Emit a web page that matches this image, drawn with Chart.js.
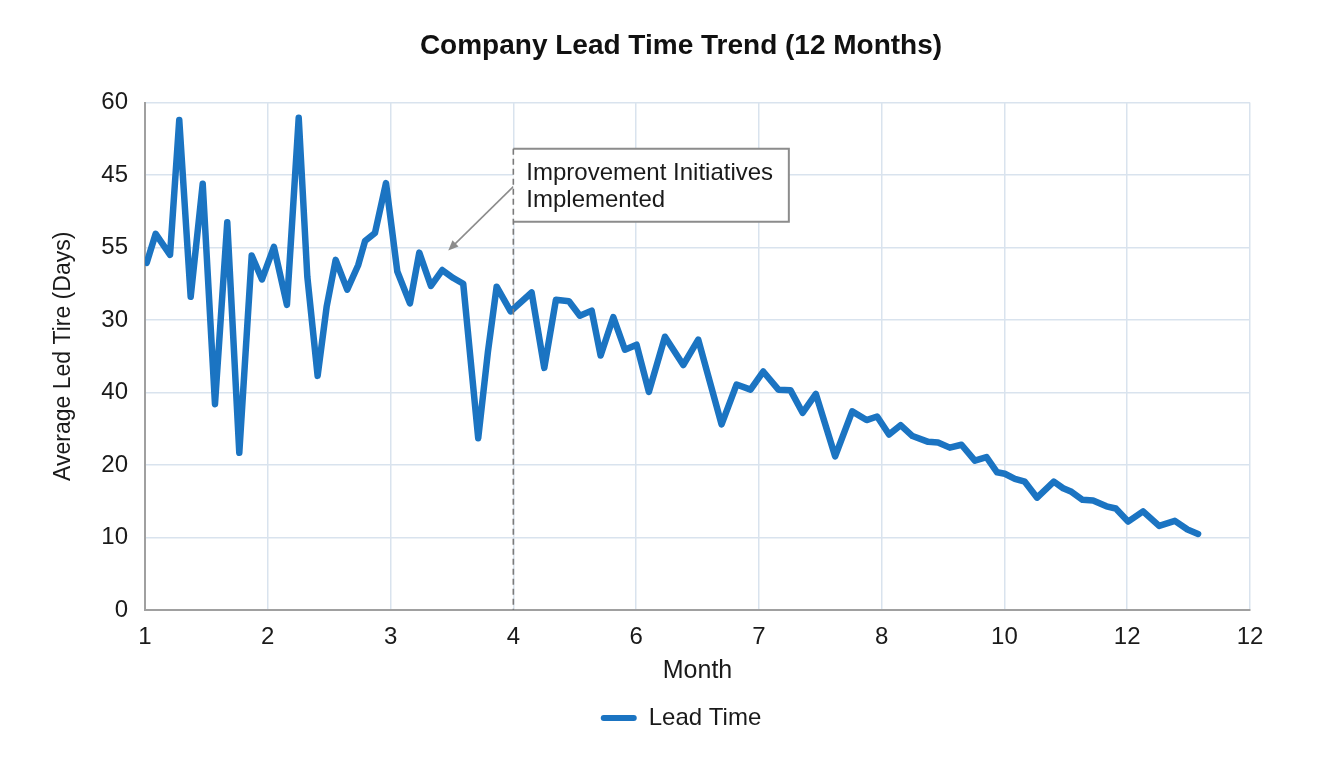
<!DOCTYPE html>
<html>
<head>
<meta charset="utf-8">
<script src="https://cdn.jsdelivr.net/npm/chart.js@4.4.0/dist/chart.umd.min.js"></script>
<style>
  html, body { margin: 0; padding: 0; background: #ffffff; }
  #wrap { width: 1344px; height: 768px; }
</style>
</head>
<body>
<div id="wrap"><canvas id="c" width="1344" height="768"></canvas></div>
<script>
// ---- Data ----
const chartTitle = 'Company Lead Time Trend (12 Months)';
const seriesName = 'Lead Time';
const xAxisTitle = 'Month';
const yAxisTitle = 'Average Led Tire (Days)';
// tick labels exactly as printed on the reference axes
const xTickLabels = ['1', '2', '3', '4', '6', '7', '8', '10', '12', '12'];
const yTickLabels = ['0', '10', '20', '40', '30', '55', '45', '60'];
// position of each observation along the month axis (axis units, tick index)
const monthPos = [
  0.014, 0.087, 0.204, 0.279, 0.372, 0.470, 0.570, 0.670, 0.768, 0.869,
  0.953, 1.050, 1.156, 1.252, 1.322, 1.406, 1.480, 1.553, 1.647, 1.737,
  1.792, 1.873, 1.963, 2.055, 2.158, 2.234, 2.329, 2.421, 2.511, 2.592,
  2.714, 2.793, 2.864, 2.978, 3.149, 3.252, 3.347, 3.453, 3.542, 3.638,
  3.711, 3.814, 3.909, 4.004, 4.104, 4.235, 4.384, 4.506, 4.696, 4.818,
  4.932, 5.035, 5.159, 5.258, 5.356, 5.464, 5.621, 5.760, 5.877, 5.963,
  6.060, 6.154, 6.251, 6.379, 6.459, 6.555, 6.650, 6.759, 6.854, 6.940,
  7.003, 7.085, 7.166, 7.266, 7.402, 7.478, 7.546, 7.636, 7.722, 7.831,
  7.907, 8.007, 8.129, 8.260, 8.388, 8.491, 8.577
];
// lead time values on the plotted (linear) axis scale
const leadTime = [
  47.9, 51.9, 49.0, 67.6, 43.2, 58.8, 28.4, 53.5, 21.7, 48.9,
  45.6, 50.1, 42.1, 67.9, 46.0, 32.3, 41.9, 48.3, 44.2, 47.6,
  50.9, 52.0, 58.9, 46.7, 42.3, 49.3, 44.7, 46.9, 45.8, 45.0,
  23.7, 35.6, 44.6, 41.2, 43.8, 33.4, 42.8, 42.6, 40.6, 41.3,
  35.1, 40.4, 35.9, 36.6, 30.1, 37.7, 33.8, 37.3, 25.6, 31.1,
  30.4, 32.9, 30.4, 30.3, 27.2, 29.8, 21.2, 27.4, 26.2, 26.7,
  24.2, 25.5, 24.0, 23.2, 23.1, 22.4, 22.8, 20.6, 21.1, 19.0,
  18.8, 18.1, 17.7, 15.5, 17.7, 16.8, 16.3, 15.2, 15.1, 14.3,
  14.0, 12.2, 13.6, 11.6, 12.3, 11.1, 10.5
];

const points = monthPos.map((x, i) => ({ x: x, y: leadTime[i] }));

const FONT = "'Liberation Sans', Arial, Helvetica, sans-serif";

// ---- Annotation plugin (vertical marker + callout box + arrow) ----
const calloutPlugin = {
  id: 'callout',
  afterDatasetsDraw(chart, args, opts) {
    const { ctx, scales: { x, y }, chartArea } = chart;
    const lx = x.getPixelForValue(opts.markerX);
    const bx1 = lx;
    const bx2 = x.getPixelForValue(opts.boxRightX);
    const by1 = y.getPixelForValue(opts.boxTopY);
    const by2 = y.getPixelForValue(opts.boxBottomY);
    ctx.save();
    // arrow
    const ax1 = x.getPixelForValue(opts.arrowFrom[0]);
    const ay1 = y.getPixelForValue(opts.arrowFrom[1]);
    const ax2 = x.getPixelForValue(opts.arrowTo[0]);
    const ay2 = y.getPixelForValue(opts.arrowTo[1]);
    ctx.strokeStyle = '#8c8c8c';
    ctx.fillStyle = '#8c8c8c';
    ctx.lineWidth = 1.6;
    const ang = Math.atan2(ay2 - ay1, ax2 - ax1);
    const headLen = 11;
    ctx.beginPath();
    ctx.moveTo(ax1, ay1);
    ctx.lineTo(ax2 - Math.cos(ang) * headLen * 0.8, ay2 - Math.sin(ang) * headLen * 0.8);
    ctx.stroke();
    ctx.beginPath();
    ctx.moveTo(ax2, ay2);
    ctx.lineTo(ax2 - headLen * Math.cos(ang - 0.4), ay2 - headLen * Math.sin(ang - 0.4));
    ctx.lineTo(ax2 - headLen * Math.cos(ang + 0.4), ay2 - headLen * Math.sin(ang + 0.4));
    ctx.closePath();
    ctx.fill();
    // box
    ctx.fillStyle = '#ffffff';
    ctx.fillRect(bx1, by1, bx2 - bx1, by2 - by1);
    ctx.strokeStyle = '#8c8c8c';
    ctx.lineWidth = 2;
    ctx.beginPath();
    ctx.moveTo(bx1, by1);
    ctx.lineTo(bx2, by1);
    ctx.lineTo(bx2, by2);
    ctx.lineTo(bx1, by2);
    ctx.stroke();
    // dashed vertical marker
    ctx.strokeStyle = '#7a7a7a';
    ctx.lineWidth = 1.6;
    ctx.setLineDash([6, 4]);
    ctx.beginPath();
    ctx.moveTo(lx, by1);
    ctx.lineTo(lx, chartArea.bottom);
    ctx.stroke();
    ctx.setLineDash([]);
    // text
    ctx.fillStyle = '#1a1a1a';
    ctx.font = '24px ' + FONT;
    ctx.textBaseline = 'middle';
    ctx.textAlign = 'left';
    opts.lines.forEach((t, i) => {
      ctx.fillText(t, bx1 + 13, by1 + 25 + i * 27);
    });
    ctx.restore();
  }
};

new Chart(document.getElementById('c'), {
  type: 'line',
  data: {
    datasets: [{
      label: seriesName,
      data: points,
      borderColor: '#1b74c2',
      backgroundColor: '#1b74c2',
      borderWidth: 6.5,
      pointRadius: 0,
      tension: 0,
      borderJoinStyle: 'round',
      borderCapStyle: 'round',
      fill: false
    }]
  },
  options: {
    responsive: false,
    animation: false,
    events: [],
    layout: { padding: { left: 18, right: 0, top: 0, bottom: 28 } },
    plugins: {
      title: {
        display: true,
        text: chartTitle,
        color: '#111111',
        font: { family: FONT, size: 28, weight: 'bold' },
        padding: { top: 29, bottom: 40 }
      },
      legend: {
        display: true,
        position: 'bottom',
        labels: {
          color: '#1a1a1a',
          font: { family: FONT, size: 24 },
          boxWidth: 36,
          boxHeight: 6,
          padding: 10,
          useBorderRadius: true,
          borderRadius: 3,
          generateLabels(chart) {
            const items = Chart.defaults.plugins.legend.labels.generateLabels(chart);
            items.forEach(it => { it.lineWidth = 0; it.borderRadius = 3; });
            return items;
          }
        }
      },
      tooltip: { enabled: false },
      callout: {
        markerX: 3.0,
        boxRightX: 5.244,
        boxTopY: 63.65,
        boxBottomY: 53.57,
        arrowFrom: [3.0, 58.4],
        arrowTo: [2.47, 49.6],
        lines: ['Improvement Initiatives', 'Implemented']
      }
    },
    scales: {
      x: {
        type: 'linear',
        min: 0,
        max: 9,
        afterFit(scale) { scale.height = 86; },
        ticks: {
          stepSize: 1,
          padding: 13,
          color: '#1a1a1a',
          font: { family: FONT, size: 24 },
          maxRotation: 0,
          callback: (v) => xTickLabels[Math.round(v)]
        },
        grid: { color: '#d9e3ee', lineWidth: 1.5, drawTicks: false },
        border: { display: true, color: '#a0a0a0', width: 2 },
        title: {
          display: true,
          text: xAxisTitle,
          color: '#1a1a1a',
          font: { family: FONT, size: 25 },
          padding: { top: 0, bottom: 10 }
        }
      },
      y: {
        type: 'linear',
        min: 0,
        max: 70,
        afterFit(scale) { scale.width = 127; },
        ticks: {
          stepSize: 10,
          padding: 17,
          color: '#1a1a1a',
          font: { family: FONT, size: 24 },
          callback: (v) => yTickLabels[Math.round(v / 10)]
        },
        grid: { color: '#d9e3ee', lineWidth: 1.5, drawTicks: false },
        border: { display: true, color: '#a0a0a0', width: 2 },
        title: {
          display: true,
          text: yAxisTitle,
          color: '#1a1a1a',
          font: { family: FONT, size: 23 },
          padding: { top: 32, bottom: 0 }
        }
      },
      yRightSpace: {
        type: 'linear',
        position: 'right',
        display: true,
        afterFit(scale) { scale.width = 94; },
        ticks: { display: false },
        grid: { display: false, drawOnChartArea: false },
        border: { display: false }
      }
    }
  },
  plugins: [calloutPlugin]
});
</script>
</body>
</html>
